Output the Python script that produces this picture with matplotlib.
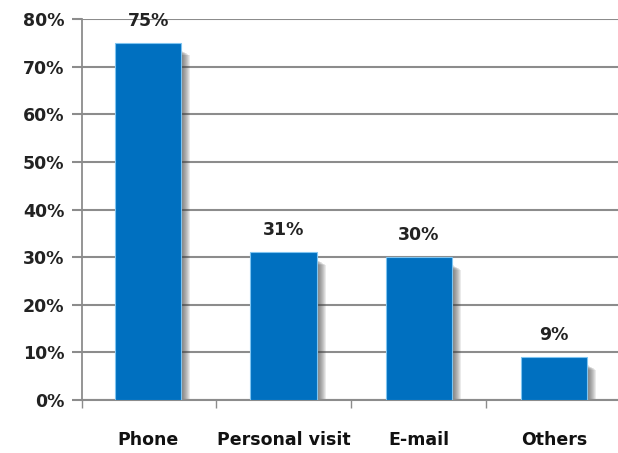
import matplotlib
matplotlib.use("Agg")
import matplotlib.pyplot as plt
from matplotlib.patches import Rectangle

categories = ["Phone", "Personal visit", "E-mail", "Others"]
shares = [75, 31, 30, 9]
yticks = [0, 10, 20, 30, 40, 50, 60, 70, 80]

fig = plt.figure(figsize=(6.18, 4.53), dpi=100)
ax = fig.add_axes([0.133, 0.117, 0.867, 0.841])

width = 0.49
x = range(len(categories))
ax.set_xlim(-0.488, 3.474)
ax.set_ylim(0, 80)

# pixel size in data units, used for the soft shadow on the right of each bar
px_x = (3.474 + 0.488) / (618 * 0.867)
px_y = 80 / (453 * 0.841)

for xi, v in zip(x, shares):
    right = xi + width / 2
    for k in range(1, 10):
        top = v - (7 + k * 0.6) * px_y
        ax.add_patch(Rectangle((right, 0), k * px_x, top, facecolor="#3a3a3a",
                               edgecolor="none", alpha=0.1, zorder=2.5))

ax.bar(x, shares, width=width, color="#0070C0", edgecolor="#7FC4F0",
       linewidth=0.8, zorder=3)

for xi, v in zip(x, shares):
    ax.text(xi, v + 4.6, f"{v}%", ha="center", va="center", fontsize=12.5,
            fontweight="bold", color="#222222")

ax.set_yticks(yticks)
ax.set_yticklabels([f"{t}%" for t in yticks], fontsize=12.5, fontweight="bold",
                   color="#222222")
ax.yaxis.grid(True, color="#8c8c8c", linewidth=1.5, zorder=0)
ax.set_axisbelow(True)

ax.set_xticks([-0.488, 0.5, 1.5, 2.5])
ax.set_xticklabels([])
for xi, name in zip(x, categories):
    ax.text(xi, -8.5, name, ha="center", va="center", fontsize=12.5,
            fontweight="bold", color="#111111")

ax.tick_params(axis="x", length=6, color="#8c8c8c", width=1)
ax.tick_params(axis="y", length=7, color="#8c8c8c", width=1.5, pad=6)
for s in ["top", "right"]:
    ax.spines[s].set_visible(False)
ax.spines["left"].set_color("#8c8c8c")
ax.spines["bottom"].set_color("#8c8c8c")
ax.spines["left"].set_linewidth(1.3)
ax.spines["bottom"].set_linewidth(1.5)

fig.savefig("out.png", dpi=100)
